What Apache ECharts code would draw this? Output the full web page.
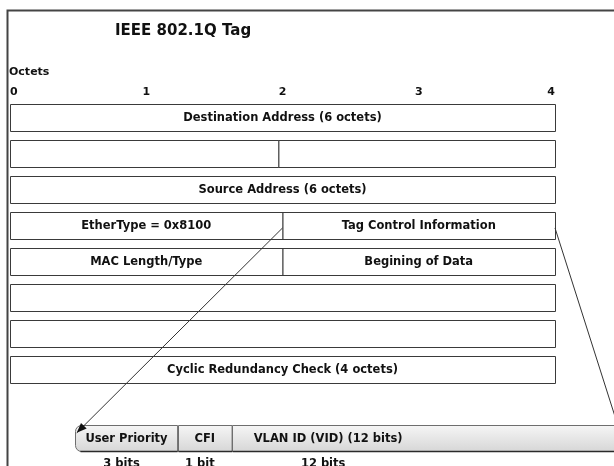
<!DOCTYPE html>
<html>
<head>
<meta charset="utf-8">
<script src="https://cdn.jsdelivr.net/npm/echarts@6/dist/echarts.min.js"></script>
<style>html,body{margin:0;padding:0;background:#fff}#c{width:614px;height:466px}</style>
</head>
<body>
<div id="c"></div>
<script>
// ---- data ----
const octetTicks = ['0', '1', '2', '3', '4'];
const fieldRow   = [0, 1, 1, 2, 3, 3, 4, 4, 5, 6, 7];
const fieldStart = [0, 0, 1.97, 0, 0, 2, 0, 2, 0, 0, 0];
const fieldEnd   = [4, 1.97, 4, 4, 2, 4, 2, 4, 4, 4, 4];
const fieldLabel = ['Destination Address (6 octets)', '', '', 'Source Address (6 octets)',
  'EtherType = 0x8100', 'Tag Control Information', 'MAC Length/Type', 'Begining of Data',
  '', '', 'Cyclic Redundancy Check (4 octets)'];
const tciLabel  = ['User Priority', 'CFI', 'VLAN ID (VID) (12 bits)'];
const tciBits   = ['3 bits', '1 bit', '12 bits'];
const tciStart  = [0.48, 1.23, 1.63];
const tciEnd    = [1.23, 1.63, 3.04];
const linkFrom  = [[2, 3.43], [4, 3.43]];
const linkTo    = [[0.49, 9.12], [4.46, 8.9]];

const FONT = '"DejaVu Sans", sans-serif';
const TXT = 'bold 11.5px ' + FONT;
const ROW_H = 0.75;
const BAR_TOP = 8.9, BAR_BOT = 9.62;

const chart = echarts.init(document.getElementById('c'), null, {renderer: 'canvas'});

const fieldData = fieldRow.map((r, i) => [r, fieldStart[i], fieldEnd[i]]);
const tciData = tciStart.map((s, i) => [s, tciEnd[i]]);
const linkData = linkFrom.map((f, i) => [f[0], f[1], linkTo[i][0], linkTo[i][1]]);

const grad = new echarts.graphic.LinearGradient(0, 0, 0, 1, [
  {offset: 0, color: '#f6f6f6'}, {offset: 1, color: '#d6d6d6'}]);

chart.setOption({
  animation: false,
  title: [
    {text: 'IEEE 802.1Q Tag', left: 110, top: 19,
     textStyle: {fontFamily: FONT, fontSize: 15, fontWeight: 'bold', color: '#111'}},
    {text: 'Octets', left: 4, top: 62,
     textStyle: {fontFamily: FONT, fontSize: 11, fontWeight: 'bold', color: '#111'}}
  ],
  graphic: [
    {type: 'polyline', shape: {points: [[7.5, 466], [7.5, 10.5], [614, 10.5]]},
     style: {stroke: '#444', lineWidth: 2, fill: null}}
  ],
  grid: {left: 10, width: 545, top: 104.5, height: 360},
  xAxis: {
    type: 'value', position: 'top', min: 0, max: 4, interval: 1,
    axisLine: {show: false}, axisTick: {show: false}, splitLine: {show: false},
    axisLabel: {margin: 7, fontFamily: FONT, fontSize: 11, fontWeight: 'bold', color: '#111',
      alignMinLabel: 'left', alignMaxLabel: 'right',
      formatter: v => octetTicks[Math.round(v)]}
  },
  yAxis: {
    type: 'value', inverse: true, min: 0, max: 10, show: false
  },
  series: [
    {
      type: 'custom', data: fieldData, encode: {x: [1, 2], y: 0}, z: 2,
      renderItem: (params, api) => {
        const r = api.value(0), s = api.value(1), e = api.value(2);
        const p0 = api.coord([s, r]), p1 = api.coord([e, r + ROW_H]);
        const label = fieldLabel[params.dataIndex];
        return {type: 'group', children: [
          {type: 'rect', shape: {x: p0[0] + 0.5, y: p0[1], width: p1[0] - p0[0], height: p1[1] - p0[1]},
           style: {fill: '#fff', stroke: '#3a3a3a', lineWidth: 1}},
          {type: 'text', style: {text: label, x: (p0[0] + p1[0]) / 2, y: (p0[1] + p1[1]) / 2,
            align: 'center', verticalAlign: 'middle', fill: '#111', font: TXT}}
        ]};
      }
    },
    {
      type: 'custom', data: linkData, encode: {x: [0, 2], y: [1, 3]}, z: 3,
      renderItem: (params, api) => {
        const a = api.coord([api.value(0), api.value(1)]);
        const b = api.coord([api.value(2), api.value(3)]);
        const children = [{type: 'line', shape: {x1: a[0], y1: a[1], x2: b[0], y2: b[1]},
          style: {stroke: '#333', lineWidth: 1}}];
        if (params.dataIndex === 0) {
          const dx = b[0] - a[0], dy = b[1] - a[1], L = Math.hypot(dx, dy);
          const ux = dx / L, uy = dy / L, len = 10, w = 4;
          const bx = b[0] - ux * len, by = b[1] - uy * len;
          children.push({type: 'polygon', shape: {points: [[b[0], b[1]],
            [bx - uy * w, by + ux * w], [bx + uy * w, by - ux * w]]}, style: {fill: '#111'}});
        }
        return {type: 'group', children};
      }
    },
    {
      type: 'custom', data: tciData, encode: {x: [0, 1]}, z: 2,
      renderItem: (params, api) => {
        const i = params.dataIndex, last = i === tciData.length - 1;
        const p0 = api.coord([api.value(0), BAR_TOP]);
        const p1 = api.coord([api.value(1), BAR_BOT]);
        const right = last ? api.getWidth() + 5 : p1[0];
        const x0 = Math.round(p0[0]) + 0.5, y0 = Math.round(p0[1]) + 0.5, y1 = Math.round(p1[1]) + 0.5;
        const cx = (p0[0] + p1[0]) / 2;
        return {type: 'group', children: [
          {type: 'rect', shape: {x: x0, y: y0, width: right - x0, height: y1 - y0,
             r: i === 0 ? [6, 0, 0, 6] : 0},
           style: {fill: grad, stroke: '#6e6e6e', lineWidth: 1}},
          {type: 'line', shape: {x1: i === 0 ? x0 + 5 : x0, y1: y1, x2: right, y2: y1},
           style: {stroke: '#2a2a2a', lineWidth: 1.5}},
          {type: 'text', style: {text: tciLabel[i], x: cx, y: (p0[1] + p1[1]) / 2 + 1,
            align: 'center', verticalAlign: 'middle', fill: '#111', font: TXT}},
          {type: 'text', style: {text: tciBits[i], x: cx - 5, y: y1 + 7,
            align: 'center', verticalAlign: 'top', fill: '#111', font: TXT}}
        ]};
      }
    }
  ]
});
</script>
</body>
</html>
